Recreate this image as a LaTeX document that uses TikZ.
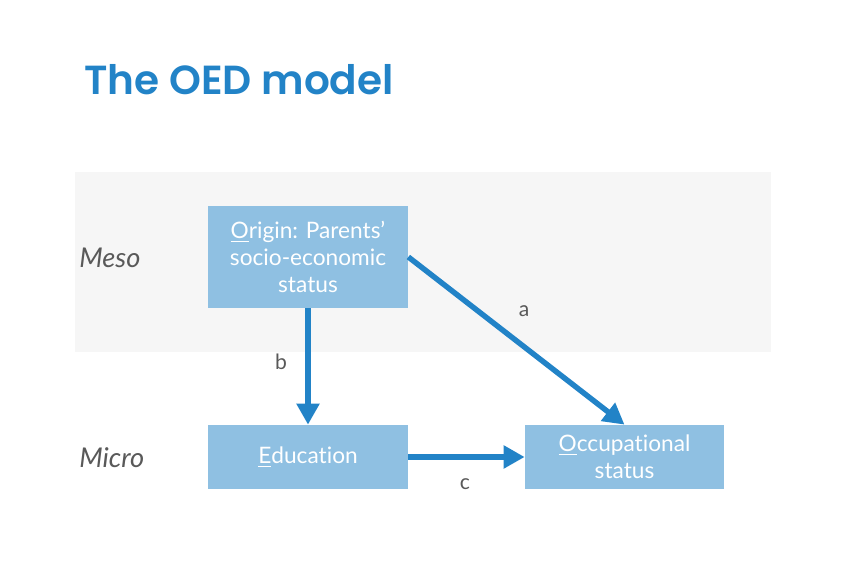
\documentclass[tikz,border=0pt]{standalone}
\usepackage{fontspec}
\setmainfont{Lato}[Ligatures={NoCommon}]
\newfontfamily\titlefont{Poppins SemiBold}
\usetikzlibrary{arrows.meta}
\definecolor{oedblue}{HTML}{2283C7}
\definecolor{boxblue}{HTML}{8FC0E2}
\definecolor{bandgrey}{HTML}{F6F6F6}
\definecolor{labelgrey}{HTML}{595959}
\begin{document}
\begin{tikzpicture}[
    factor/.style = {rectangle, fill=boxblue, text=white, align=center,
      minimum width = 4cm, inner sep=0pt, font=\fontsize{12.9}{15.4}\selectfont},
    level/.style = {anchor=west, inner sep=0pt, text=labelgrey,
      font=\itshape\fontsize{15.5}{18}\selectfont},
    path/.style = {-{Triangle[length=0.42cm,width=0.44cm]}, oedblue, line width=3.1pt},
    coef/.style = {text=labelgrey, font=\fontsize{12}{14}\selectfont}]
        \useasboundingbox (0,0) rectangle (17.32,11.5);
        \node[anchor=base west, text=oedblue, inner sep=0pt] (title) at (1.68,9.6)
             {\titlefont\fontsize{23.1}{28}\selectfont The OED model};
        \fill[bandgrey] (1.5,4.46) rectangle (15.42,8.06);

        \node[level] (meso) at (1.58,6.34) {Meso};
        \node[level] (micro) at (1.58,2.34) {Micro};

        \node[factor, minimum height = 2.04cm] (origin) at (6.16,6.36)
             {\underline{O}rigin: Parents'\\socio-economic\\status};
        \node[factor, minimum height = 1.28cm] (education) at (6.16,2.36)
             {\underline{E}ducation};
        \node[factor, minimum height = 1.28cm, minimum width = 3.98cm] (occupation)
             at (12.49,2.36) {\underline{O}ccupational\\status};

        \draw[path] (origin.east) -- (occupation.north);
        \draw[path] (origin.south) -- (education.north);
        \draw[path] (education.east) -- (occupation.west);

        \node[coef] (a) at (10.48,5.28) {a};
        \node[coef] (b) at (5.62,4.26) {b};
        \node[coef] (c) at (9.3,1.82) {c};
\end{tikzpicture}
\end{document}
